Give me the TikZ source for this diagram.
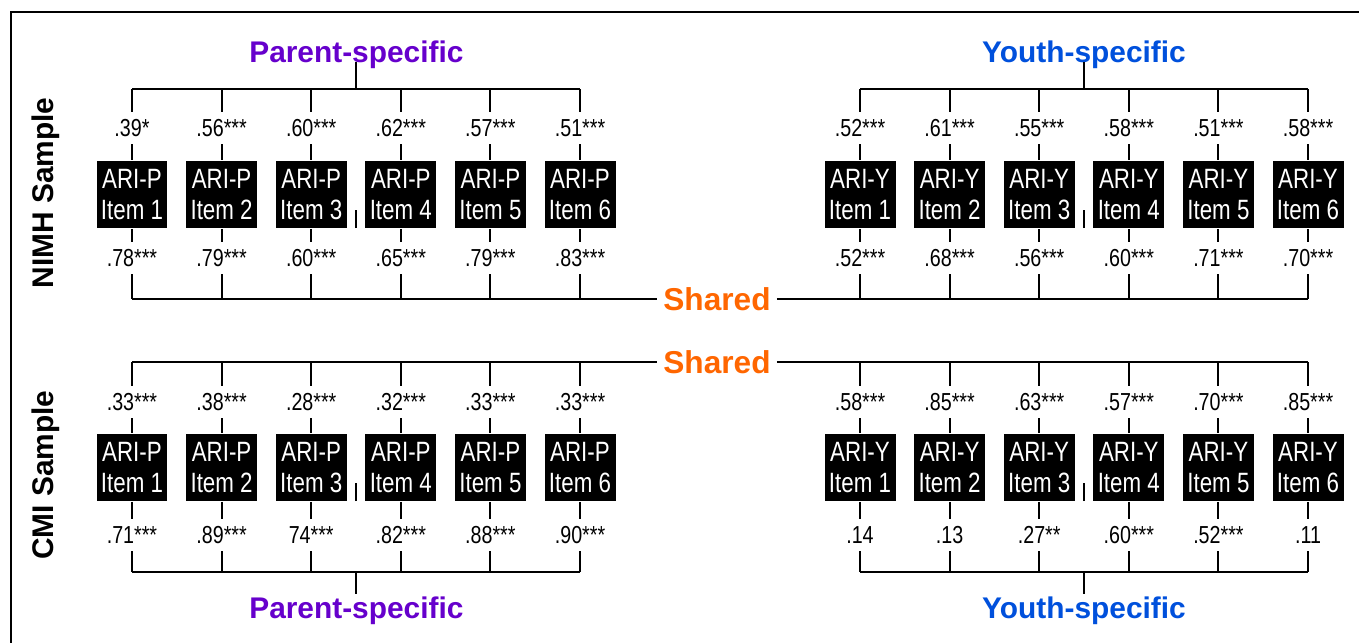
\documentclass[tikz,border=0pt]{standalone}
\usepackage{fontspec}
\setmainfont{Liberation Sans}
\newfontfamily\narrowfont{Liberation Sans}[FakeStretch=0.8]
\definecolor{parentcol}{RGB}{102,0,204}
\definecolor{youthcol}{RGB}{0,80,220}
\definecolor{sharedcol}{RGB}{255,102,0}

\begin{document}
\begin{tikzpicture}[x=0.02cm, y=-0.02cm, line width=1.1pt,
  item/.style={fill=black, text=white, minimum width=1.42cm, minimum height=1.34cm,
    inner sep=0pt, align=center, font=\narrowfont\fontsize{15.9}{18.1}\selectfont},
  coef/.style={inner sep=0pt, minimum height=0.62cm, font=\narrowfont\fontsize{14}{16}\selectfont},
  factor/.style={anchor=base, font=\bfseries\fontsize{17}{20}\selectfont},
  shared/.style={inner sep=3pt, text=sharedcol, font=\bfseries\fontsize{18}{21}\selectfont},
  sample/.style={rotate=90, anchor=base, font=\bfseries\fontsize{17}{20}\selectfont}]

	\def \dx {89.6}
	\def \xp {132}  % first parent item
	\def \xy {860}  % first youth item

	\useasboundingbox (0,0) rectangle (1359,643);
	\draw (1359,12) -- (11,12) -- (11,643);

	% NIMH sample
	\node[sample] (nimh) at (53,193) {NIMH Sample};
	\node[factor, text=parentcol] (nimhPar) at (356.4,62) {Parent-specific};
	\node[factor, text=youthcol] (nimhYou) at (1084,62) {Youth-specific};
	\node[shared] (nimhShared) at (717,299) {Shared};

	\foreach \i/\pa/\pb/\ya/\yb in {1/.39*/.78***/.52***/.52***, 2/.56***/.79***/.61***/.68***,
	    3/.60***/.60***/.55***/.56***, 4/.62***/.65***/.58***/.60***,
	    5/.57***/.79***/.51***/.71***, 6/.51***/.83***/.58***/.70***} {
	  \pgfmathsetmacro\xx{\xp+\dx*(\i-1)}
	  \node[item] (nimhP\i) at (\xx,194.5) {ARI-P\\Item \i};
	  \node[coef] (nimhP\i-up) at (\xx,128) {\pa};
	  \node[coef] (nimhP\i-dn) at (\xx,258) {\pb};
	  \coordinate (nimhP\i-bar) at (\xx,89);
	  \coordinate (nimhP\i-sh) at (\xx,299);
	  \draw (nimhP\i-bar) -- (nimhP\i-up) (nimhP\i-up) -- (nimhP\i) -- (nimhP\i-dn) (nimhP\i-dn) -- (nimhP\i-sh);
	  \pgfmathsetmacro\xx{\xy+\dx*(\i-1)}
	  \node[item] (nimhY\i) at (\xx,194.5) {ARI-Y\\Item \i};
	  \node[coef] (nimhY\i-up) at (\xx,128) {\ya};
	  \node[coef] (nimhY\i-dn) at (\xx,258) {\yb};
	  \coordinate (nimhY\i-bar) at (\xx,89);
	  \coordinate (nimhY\i-sh) at (\xx,299);
	  \draw (nimhY\i-bar) -- (nimhY\i-up) (nimhY\i-up) -- (nimhY\i) -- (nimhY\i-dn) (nimhY\i-dn) -- (nimhY\i-sh);
	}
	\coordinate (nimhParStem) at (356.4,89);
	\coordinate (nimhYouStem) at (1084,89);
	\draw (nimhP1-bar) -- (nimhP6-bar) (nimhParStem) -- (nimhPar.base);
	\draw (nimhY1-bar) -- (nimhY6-bar) (nimhYouStem) -- (nimhYou.base);
	\draw (nimhP1-sh) -- (nimhShared) -- (nimhY6-sh);
	\draw (356.4,228) -- ++(0,-18) (1084,228) -- ++(0,-18);

	% CMI sample
	\node[sample] (cmi) at (53,475) {CMI Sample};
	\node[factor, text=parentcol] (cmiPar) at (356.4,618) {Parent-specific};
	\node[factor, text=youthcol] (cmiYou) at (1084,618) {Youth-specific};
	\node[shared] (cmiShared) at (717,362) {Shared};

	\foreach \i/\pa/\pb/\ya/\yb in {1/.33***/.71***/.58***/.14, 2/.38***/.89***/.85***/.13,
	    3/.28***/74***/.63***/.27**, 4/.32***/.82***/.57***/.60***,
	    5/.33***/.88***/.70***/.52***, 6/.33***/.90***/.85***/.11} {
	  \pgfmathsetmacro\xx{\xp+\dx*(\i-1)}
	  \node[item] (cmiP\i) at (\xx,467.5) {ARI-P\\Item \i};
	  \node[coef] (cmiP\i-up) at (\xx,402) {\pa};
	  \node[coef] (cmiP\i-dn) at (\xx,535) {\pb};
	  \coordinate (cmiP\i-sh) at (\xx,362);
	  \coordinate (cmiP\i-bar) at (\xx,572);
	  \draw (cmiP\i-sh) -- (cmiP\i-up) (cmiP\i-up) -- (cmiP\i) -- (cmiP\i-dn) (cmiP\i-dn) -- (cmiP\i-bar);
	  \pgfmathsetmacro\xx{\xy+\dx*(\i-1)}
	  \node[item] (cmiY\i) at (\xx,467.5) {ARI-Y\\Item \i};
	  \node[coef] (cmiY\i-up) at (\xx,402) {\ya};
	  \node[coef] (cmiY\i-dn) at (\xx,535) {\yb};
	  \coordinate (cmiY\i-sh) at (\xx,362);
	  \coordinate (cmiY\i-bar) at (\xx,572);
	  \draw (cmiY\i-sh) -- (cmiY\i-up) (cmiY\i-up) -- (cmiY\i) -- (cmiY\i-dn) (cmiY\i-dn) -- (cmiY\i-bar);
	}
	\coordinate (cmiParStem) at (356.4,572);
	\coordinate (cmiYouStem) at (1084,572);
	\draw (cmiP1-bar) -- (cmiP6-bar) (cmiParStem) -- ++(0,22);
	\draw (cmiY1-bar) -- (cmiY6-bar) (cmiYouStem) -- ++(0,22);
	\draw (cmiP1-sh) -- (cmiShared) -- (cmiY6-sh);
	\draw (356.4,501) -- ++(0,-18) (1084,501) -- ++(0,-18);

\end{tikzpicture}
\end{document}
